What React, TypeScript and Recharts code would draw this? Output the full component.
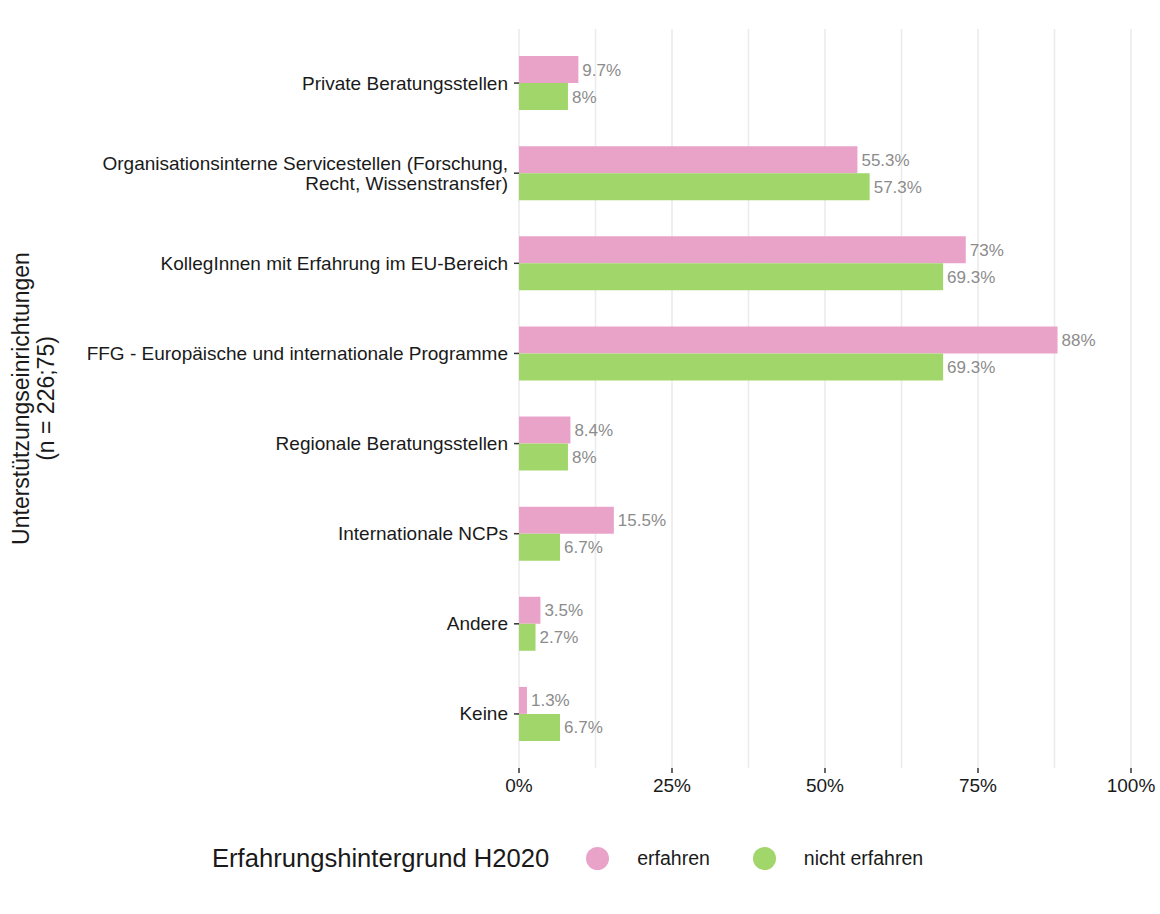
import { BarChart, Bar, XAxis, YAxis, CartesianGrid, LabelList, Legend, Label } from 'recharts';

const categories = [
  'Private Beratungsstellen',
  'Organisationsinterne Servicestellen (Forschung,\nRecht, Wissenstransfer)',
  'KollegInnen mit Erfahrung im EU-Bereich',
  'FFG - Europäische und internationale Programme',
  'Regionale Beratungsstellen',
  'Internationale NCPs',
  'Andere',
  'Keine',
];
const erfahren = [9.7, 55.3, 73, 88, 8.4, 15.5, 3.5, 1.3];
const nichtErfahren = [8, 57.3, 69.3, 69.3, 8, 6.7, 2.7, 6.7];
const majorTicks = [0, 25, 50, 75, 100];
const gridTicks = [0, 12.5, 25, 37.5, 50, 62.5, 75, 87.5, 100];

const PINK = '#E9A3C9';
const GREEN = '#A1D76A';
const FONT = '"Liberation Sans", Arial, sans-serif';
const GRID = '#EBEBEB';

const data = categories.map((name, i) => ({
  name,
  erfahren: erfahren[i],
  nichtErfahren: nichtErfahren[i],
}));

function CategoryTick({ x, y, payload }: any) {
  const lines = String(payload.value).split('\n');
  const lh = 20;
  const start = -((lines.length - 1) * lh) / 2;
  return (
    <text x={x} y={y} textAnchor="end" fill="#1a1a1a" fontSize={19} fontFamily={FONT}>
      {lines.map((l, i) => (
        <tspan key={i} x={x} y={y + start + i * lh} dominantBaseline="central">
          {l}
        </tspan>
      ))}
    </text>
  );
}

function YTitle({ viewBox }: any) {
  const cy = viewBox.y + viewBox.height / 2;
  return (
    <g fontFamily={FONT} fontSize={23} fill="#1a1a1a" textAnchor="middle">
      <text x={21} y={cy} transform={`rotate(-90, 21, ${cy})`} dominantBaseline="central">
        Unterstützungseinrichtungen
      </text>
      <text x={46} y={cy} transform={`rotate(-90, 46, ${cy})`} dominantBaseline="central">
        (n = 226;75)
      </text>
    </g>
  );
}

function LegendBox({ payload }: any) {
  return (
    <div style={{ display: 'flex', alignItems: 'center', fontFamily: FONT, color: '#1a1a1a', paddingLeft: 212 }}>
      <span style={{ fontSize: 25.6, marginRight: 37 }}>Erfahrungshintergrund H2020</span>
      {(payload || []).map((p: any) => (
        <span key={p.value} style={{ display: 'flex', alignItems: 'center', marginRight: 43 }}>
          <span style={{ width: 23, height: 23, borderRadius: 12, background: p.color, marginRight: 28 }} />
          <span style={{ fontSize: 19.5 }}>{p.value}</span>
        </span>
      ))}
    </div>
  );
}

// grid lines every 12.5%, positioned through the axis scale
const gridCoords = ({ xAxis }: any) =>
  gridTicks.map(t => (typeof xAxis.scale === 'function' ? xAxis.scale(t) : xAxis.scale.map(t)));

export default function App() {
  return (
    <div style={{ position: 'absolute', left: 0, top: 0, width: 1160, height: 914, background: '#fff' }}>
      <BarChart
        width={1160}
        height={914}
        data={data}
        layout="vertical"
        margin={{ top: 29, right: 29, bottom: 116, left: 0 }}
        barCategoryGap="20%"
        barGap={0}
      >
        <CartesianGrid
          horizontal={false}
          stroke={GRID}
          strokeWidth={1.6}
          verticalCoordinatesGenerator={gridCoords}
        />
        <XAxis
          type="number"
          domain={[0, 100]}
          ticks={majorTicks}
          tickFormatter={v => `${v}%`}
          axisLine={false}
          tickLine={{ stroke: '#333', strokeWidth: 1.5 }}
          tickSize={5}
          tickMargin={6}
          height={30}
          tick={{ fill: '#1a1a1a', fontSize: 19, fontFamily: FONT }}
        />
        <YAxis
          type="category"
          dataKey="name"
          width={519}
          axisLine={false}
          tickLine={{ stroke: '#333', strokeWidth: 1.5 }}
          tickSize={5}
          tickMargin={6}
          padding={{ top: 9, bottom: 9 }}
          tick={<CategoryTick />}
          interval={0}
        >
          <Label content={<YTitle />} />
        </YAxis>
        <Legend
          layout="horizontal"
          verticalAlign="middle"
          align="center"
          wrapperStyle={{ top: 844, left: 0, width: 1160 }}
          content={<LegendBox />}
        />
        <Bar dataKey="erfahren" name="erfahren" fill={PINK} isAnimationActive={false}>
          <LabelList
            dataKey="erfahren"
            position="right"
            offset={4}
            formatter={(v: any) => `${v}%`}
            fill="#8C8C8C"
            fontSize={17}
            fontFamily={FONT}
          />
        </Bar>
        <Bar dataKey="nichtErfahren" name="nicht erfahren" fill={GREEN} isAnimationActive={false}>
          <LabelList
            dataKey="nichtErfahren"
            position="right"
            offset={4}
            formatter={(v: any) => `${v}%`}
            fill="#8C8C8C"
            fontSize={17}
            fontFamily={FONT}
          />
        </Bar>
      </BarChart>
    </div>
  );
}
